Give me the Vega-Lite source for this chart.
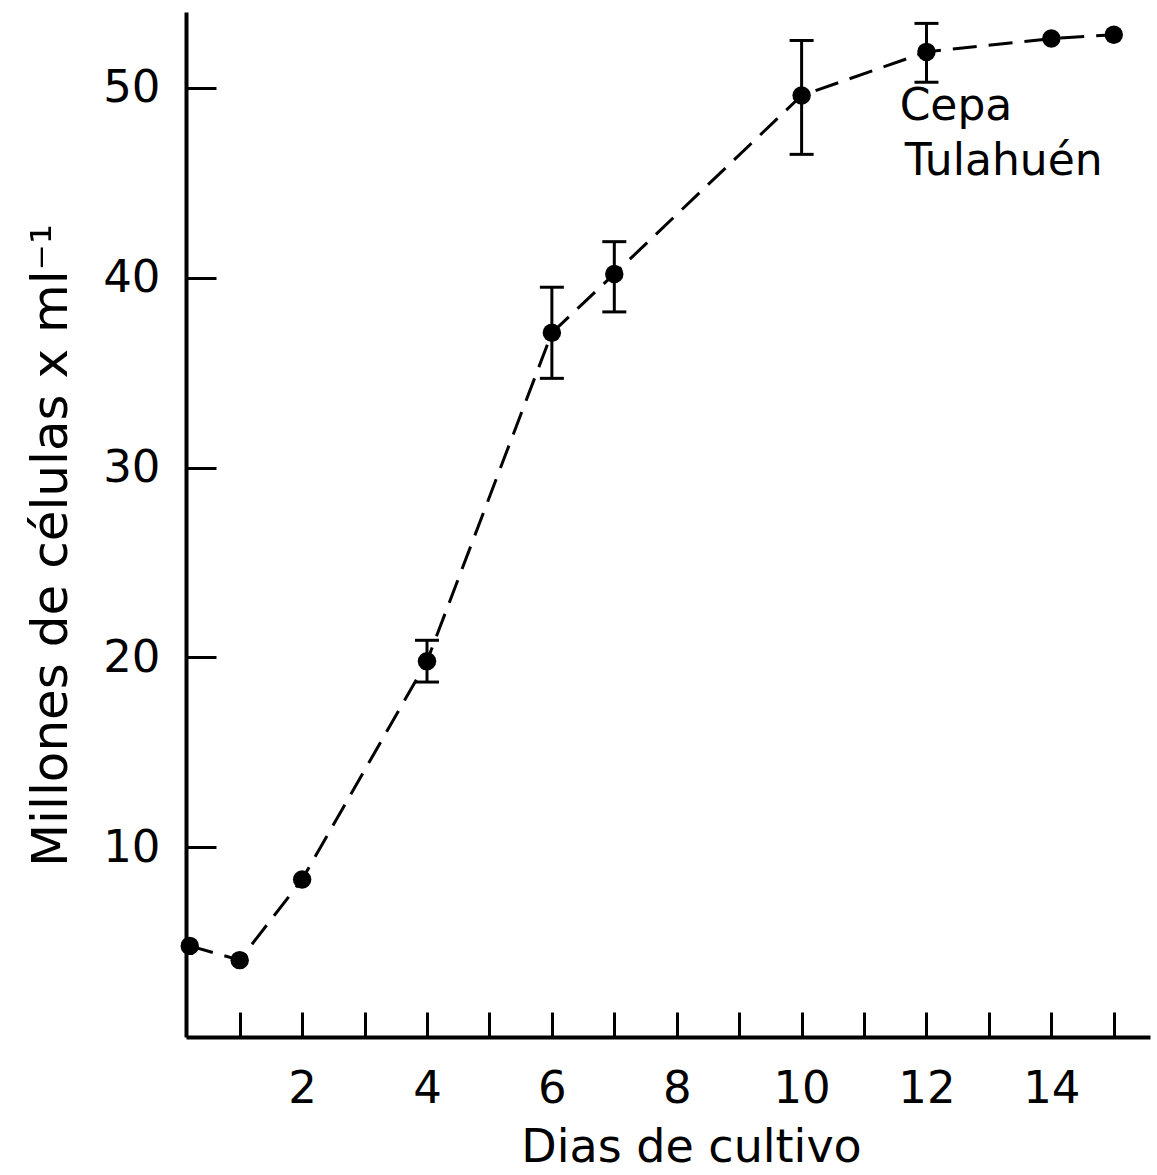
{
  "$schema": "https://vega.github.io/schema/vega-lite/v6.json",
  "width": 964,
  "height": 1025,
  "autosize": "none",
  "padding": {"left": 186, "top": 12, "right": 7, "bottom": 138},
  "background": "white",
  "config": {
    "view": {"stroke": null},
    "font": "DejaVu Sans",
    "axis": {
      "grid": false,
      "domainColor": "black",
      "domainWidth": 4,
      "tickColor": "black",
      "tickWidth": 3,
      "labelColor": "black",
      "labelFont": "DejaVu Sans",
      "labelFontSize": 45,
      "labelFontWeight": "normal",
      "titleColor": "black",
      "titleFont": "DejaVu Sans",
      "titleFontWeight": "normal"
    }
  },
  "datasets": {
    "growth": [
      {"day": 0.2, "value": 4.8},
      {"day": 1, "value": 4.05},
      {"day": 2, "value": 8.3},
      {"day": 4, "value": 19.8, "lo": 18.7, "hi": 20.9},
      {"day": 6, "value": 37.1, "lo": 34.7, "hi": 39.5},
      {"day": 7, "value": 40.2, "lo": 38.2, "hi": 41.9},
      {"day": 10, "value": 49.6, "lo": 46.5, "hi": 52.5},
      {"day": 12, "value": 51.9, "lo": 50.3, "hi": 53.4},
      {"day": 14, "value": 52.6},
      {"day": 15, "value": 52.8}
    ],
    "notes": [
      {"day": 11.57, "value": 48.3, "text": "Cepa"},
      {"day": 11.65, "value": 45.4, "text": "Tulahuén"}
    ]
  },
  "layer": [
    {
      "data": {"name": "growth"},
      "mark": {"type": "line", "color": "black", "strokeWidth": 3, "strokeDash": [24, 12]},
      "encoding": {
        "x": {
          "field": "day", "type": "quantitative",
          "scale": {"domain": [0.14, 15.58], "nice": false, "zero": false},
          "axis": {
            "values": [1, 2, 3, 4, 5, 6, 7, 8, 9, 10, 11, 12, 13, 14, 15],
            "format": "d",
            "labelExpr": "datum.value % 2 == 0 ? datum.label : ''",
            "tickSize": -25,
            "labelPadding": 54,
            "title": "Dias de cultivo",
            "titleFontSize": 46,
            "titlePadding": 14,
            "titleX": 505
          }
        },
        "y": {
          "field": "value", "type": "quantitative",
          "scale": {"domain": [0, 54], "nice": false},
          "axis": {
            "values": [10, 20, 30, 40, 50],
            "format": "d",
            "tickSize": -30,
            "labelPadding": 56,
            "title": "Millones de células x ml⁻¹",
            "titleFontSize": 50,
            "titlePadding": 26,
            "titleY": 533
          }
        }
      }
    },
    {
      "data": {"name": "growth"},
      "transform": [{"filter": "isValid(datum.lo)"}],
      "mark": {"type": "rule", "color": "black", "strokeWidth": 3, "opacity": 1},
      "encoding": {
        "x": {"field": "day", "type": "quantitative"},
        "y": {"field": "lo", "type": "quantitative"},
        "y2": {"field": "hi"}
      }
    },
    {
      "data": {"name": "growth"},
      "transform": [{"filter": "isValid(datum.lo)"}],
      "mark": {"type": "tick", "orient": "horizontal", "color": "black", "opacity": 1, "size": 24, "thickness": 3},
      "encoding": {
        "x": {"field": "day", "type": "quantitative"},
        "y": {"field": "lo", "type": "quantitative"}
      }
    },
    {
      "data": {"name": "growth"},
      "transform": [{"filter": "isValid(datum.hi)"}],
      "mark": {"type": "tick", "orient": "horizontal", "color": "black", "opacity": 1, "size": 24, "thickness": 3},
      "encoding": {
        "x": {"field": "day", "type": "quantitative"},
        "y": {"field": "hi", "type": "quantitative"}
      }
    },
    {
      "data": {"name": "growth"},
      "mark": {"type": "point", "filled": true, "color": "black", "opacity": 1, "size": 340, "shape": "circle"},
      "encoding": {
        "x": {"field": "day", "type": "quantitative"},
        "y": {"field": "value", "type": "quantitative"}
      }
    },
    {
      "data": {"name": "notes"},
      "mark": {"type": "text", "align": "left", "baseline": "alphabetic", "fontSize": 44, "color": "black", "font": "DejaVu Sans"},
      "encoding": {
        "x": {"field": "day", "type": "quantitative"},
        "y": {"field": "value", "type": "quantitative"},
        "text": {"field": "text"}
      }
    }
  ]
}
